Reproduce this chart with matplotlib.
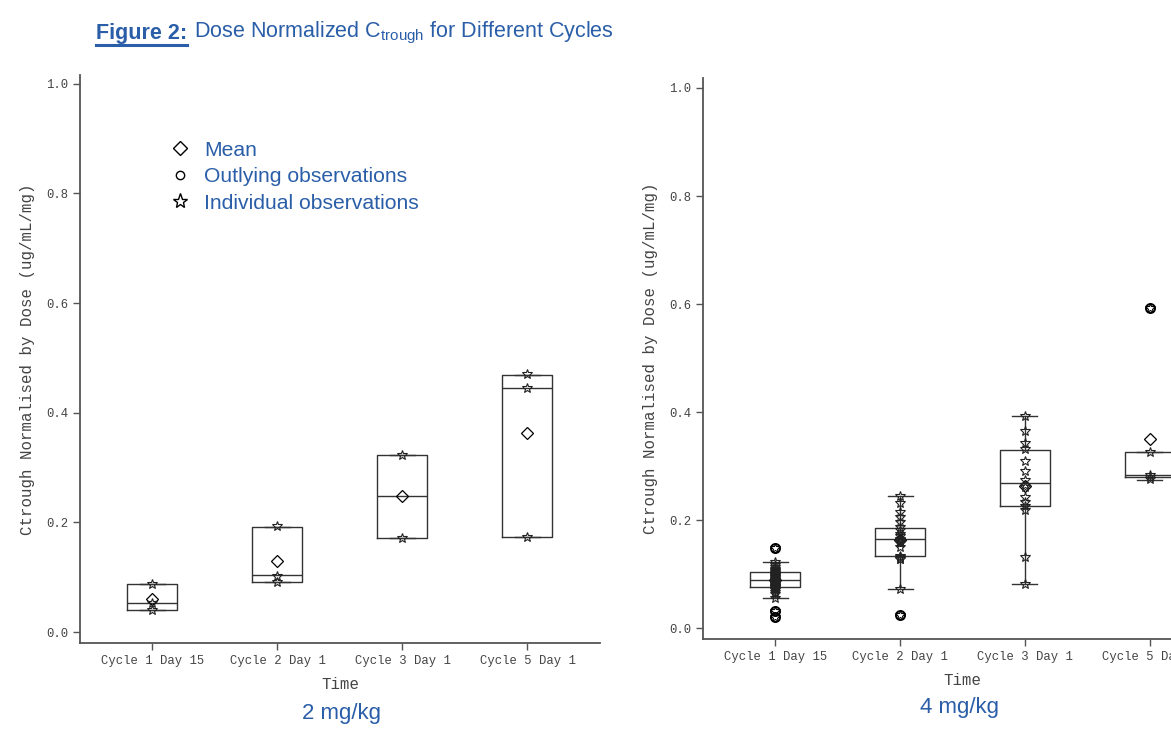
import numpy as np
import matplotlib
matplotlib.use('Agg')
import matplotlib.pyplot as plt
from matplotlib.lines import Line2D

cycles = ['Cycle 1 Day 15', 'Cycle 2 Day 1', 'Cycle 3 Day 1', 'Cycle 5 Day 1']

# 2 mg/kg panel
obs_2 = [[0.088, 0.053, 0.040],
         [0.193, 0.102, 0.091],
         [0.323, 0.172],
         [0.471, 0.445, 0.173]]
q1_2 = [0.040, 0.091, 0.172, 0.173]
med_2 = [0.053, 0.104, 0.248, 0.445]
q3_2 = [0.087, 0.192, 0.323, 0.469]
lo_2 = [0.040, 0.091, 0.172, 0.173]
hi_2 = [0.087, 0.192, 0.323, 0.469]
mean_2 = [0.060, 0.129, 0.248, 0.363]
out_2 = [[], [], [], []]

# 4 mg/kg panel
obs_4 = [[0.123, 0.117, 0.113, 0.110, 0.107, 0.105, 0.104, 0.102, 0.100, 0.099,
          0.098, 0.096, 0.095, 0.094, 0.092, 0.091, 0.090, 0.089, 0.088, 0.087,
          0.086, 0.085, 0.084, 0.083, 0.082, 0.081, 0.080, 0.079, 0.078, 0.077,
          0.076, 0.075, 0.073, 0.070, 0.067, 0.064, 0.056],
         [0.245, 0.231, 0.215, 0.206, 0.197, 0.188, 0.181, 0.175, 0.170, 0.166,
          0.164, 0.163, 0.161, 0.160, 0.157, 0.151, 0.133, 0.131, 0.129, 0.128,
          0.072],
         [0.393, 0.365, 0.342, 0.331, 0.309, 0.291, 0.274, 0.265, 0.261, 0.243,
          0.234, 0.226, 0.219, 0.132, 0.082],
         [0.326, 0.284, 0.280, 0.276]]
q1_4 = [0.0765, 0.133, 0.226, 0.279]
med_4 = [0.089, 0.165, 0.269, 0.283]
q3_4 = [0.104, 0.185, 0.330, 0.326]
lo_4 = [0.056, 0.072, 0.082, 0.275]
hi_4 = [0.123, 0.245, 0.393, 0.326]
mean_4 = [0.089, 0.163, 0.264, 0.350]
out_4 = [[0.148, 0.032, 0.021], [0.025], [], [0.593]]

blue = '#2a5ea8'
grey = '#555555'
mono = 'Liberation Mono'
sans = 'Liberation Sans'

plt.rcParams['mathtext.fontset'] = 'custom'
plt.rcParams['mathtext.rm'] = sans
plt.rcParams['mathtext.it'] = sans

fig = plt.figure(figsize=(11.71, 7.30), dpi=100)
W, H = 1171, 730


def panel(rect, ylim, q1, med, q3, lo, hi, mean, obs, outs):
    ax = fig.add_axes(rect)
    pos = np.arange(1, len(cycles) + 1)
    stats = []
    for i in range(len(cycles)):
        stats.append(dict(med=med[i], q1=q1[i], q3=q3[i],
                          whislo=lo[i], whishi=hi[i], fliers=[]))
    lp = dict(color='#333333', linewidth=1.0)
    ax.bxp(stats, positions=pos, widths=0.4, capwidths=0.2,
           showfliers=False, boxprops=lp, medianprops=lp,
           whiskerprops=lp, capprops=lp)
    ax.plot(pos, mean, 'D', ms=6.5, mfc='none', mec='black',
            mew=0.9, zorder=3)
    for i in range(len(cycles)):
        ax.plot([pos[i]] * len(outs[i]), outs[i], 'o', ms=6.5,
                mfc='none', mec='black', mew=1.4, zorder=3)
        ax.plot([pos[i]] * len(outs[i]), outs[i], '*', ms=7,
                mfc='none', mec='black', mew=0.8, zorder=4)
        ax.plot([pos[i]] * len(obs[i]), obs[i], '*', ms=7.5,
                mfc='none', mec='#222222', mew=0.8, zorder=4)

    ax.set_xlim(0.42, 4.58)
    ax.set_ylim(*ylim)
    ax.set_yticks([0.0, 0.2, 0.4, 0.6, 0.8, 1.0])
    ax.set_yticklabels(['0.0', '0.2', '0.4', '0.6', '0.8', '1.0'])
    ax.set_xticks(pos)
    ax.set_xticklabels(cycles)
    for s in ['top', 'right']:
        ax.spines[s].set_visible(False)
    for s in ['left', 'bottom']:
        ax.spines[s].set_color(grey)
        ax.spines[s].set_linewidth(1.3)
    ax.tick_params(direction='out', length=5, width=1, color=grey,
                   labelcolor='#444444', labelsize=8.8)
    for t in ax.get_xticklabels() + ax.get_yticklabels():
        t.set_family(mono)
    ax.set_xlabel('Time', family=mono, fontsize=11.3, color='#444444',
                  labelpad=7)
    ax.set_ylabel('Ctrough Normalised by Dose (ug/mL/mg)', family=mono,
                  fontsize=11.3, color='#444444', labelpad=8)
    return ax


ax1 = panel([80 / W, 87 / H, 520 / W, 568 / H], (-0.02, 1.016),
            q1_2, med_2, q3_2, lo_2, hi_2, mean_2, obs_2, out_2)
ax2 = panel([703 / W, 91 / H, 519 / W, 561 / H], (-0.02, 1.0185),
            q1_4, med_4, q3_4, lo_4, hi_4, mean_4, obs_4, out_4)

# legend in the left panel
handles = [Line2D([], [], ls='none', marker='D', ms=7, mfc='none', mec='black', mew=1),
           Line2D([], [], ls='none', marker='o', ms=6, mfc='none', mec='black', mew=1),
           Line2D([], [], ls='none', marker='*', ms=11, mfc='none', mec='black', mew=1)]
leg = ax1.legend(handles, ['Mean', 'Outlying observations', 'Individual observations'],
                 loc='upper left', bbox_to_anchor=(159 / W, 1 - 130 / H),
                 bbox_transform=fig.transFigure, frameon=False,
                 prop=dict(family=sans, size=15.2), labelcolor=blue,
                 handlelength=1.0, handletextpad=0.65, labelspacing=0.36,
                 borderpad=0)

# panel captions
fig.text(341 / W, 1 - 713 / H, '2 mg/kg', family=sans, fontsize=16,
         color=blue, ha='center', va='center')
fig.text(960 / W, 1 - 708 / H, '4 mg/kg', family=sans, fontsize=16,
         color=blue, ha='center', va='center')

# title
t1 = fig.text(96 / W, 1 - 33 / H, 'Figure 2:', family=sans, fontsize=15.5,
              fontweight='bold', color=blue, ha='left', va='center')
fig.canvas.draw()
bb = t1.get_window_extent()
fig.text(bb.x1 / W + 7 / W, 1 - 33 / H,
         r'Dose Normalized C$_{\mathrm{trough}}$ for Different Cycles',
         family=sans, fontsize=15.5, color=blue, ha='left', va='center')
fig.add_artist(Line2D([bb.x0 / W, bb.x1 / W], [bb.y0 / H - 1.5 / H] * 2,
                      color=blue, lw=2.2))

fig.savefig('out.png', dpi=100)
